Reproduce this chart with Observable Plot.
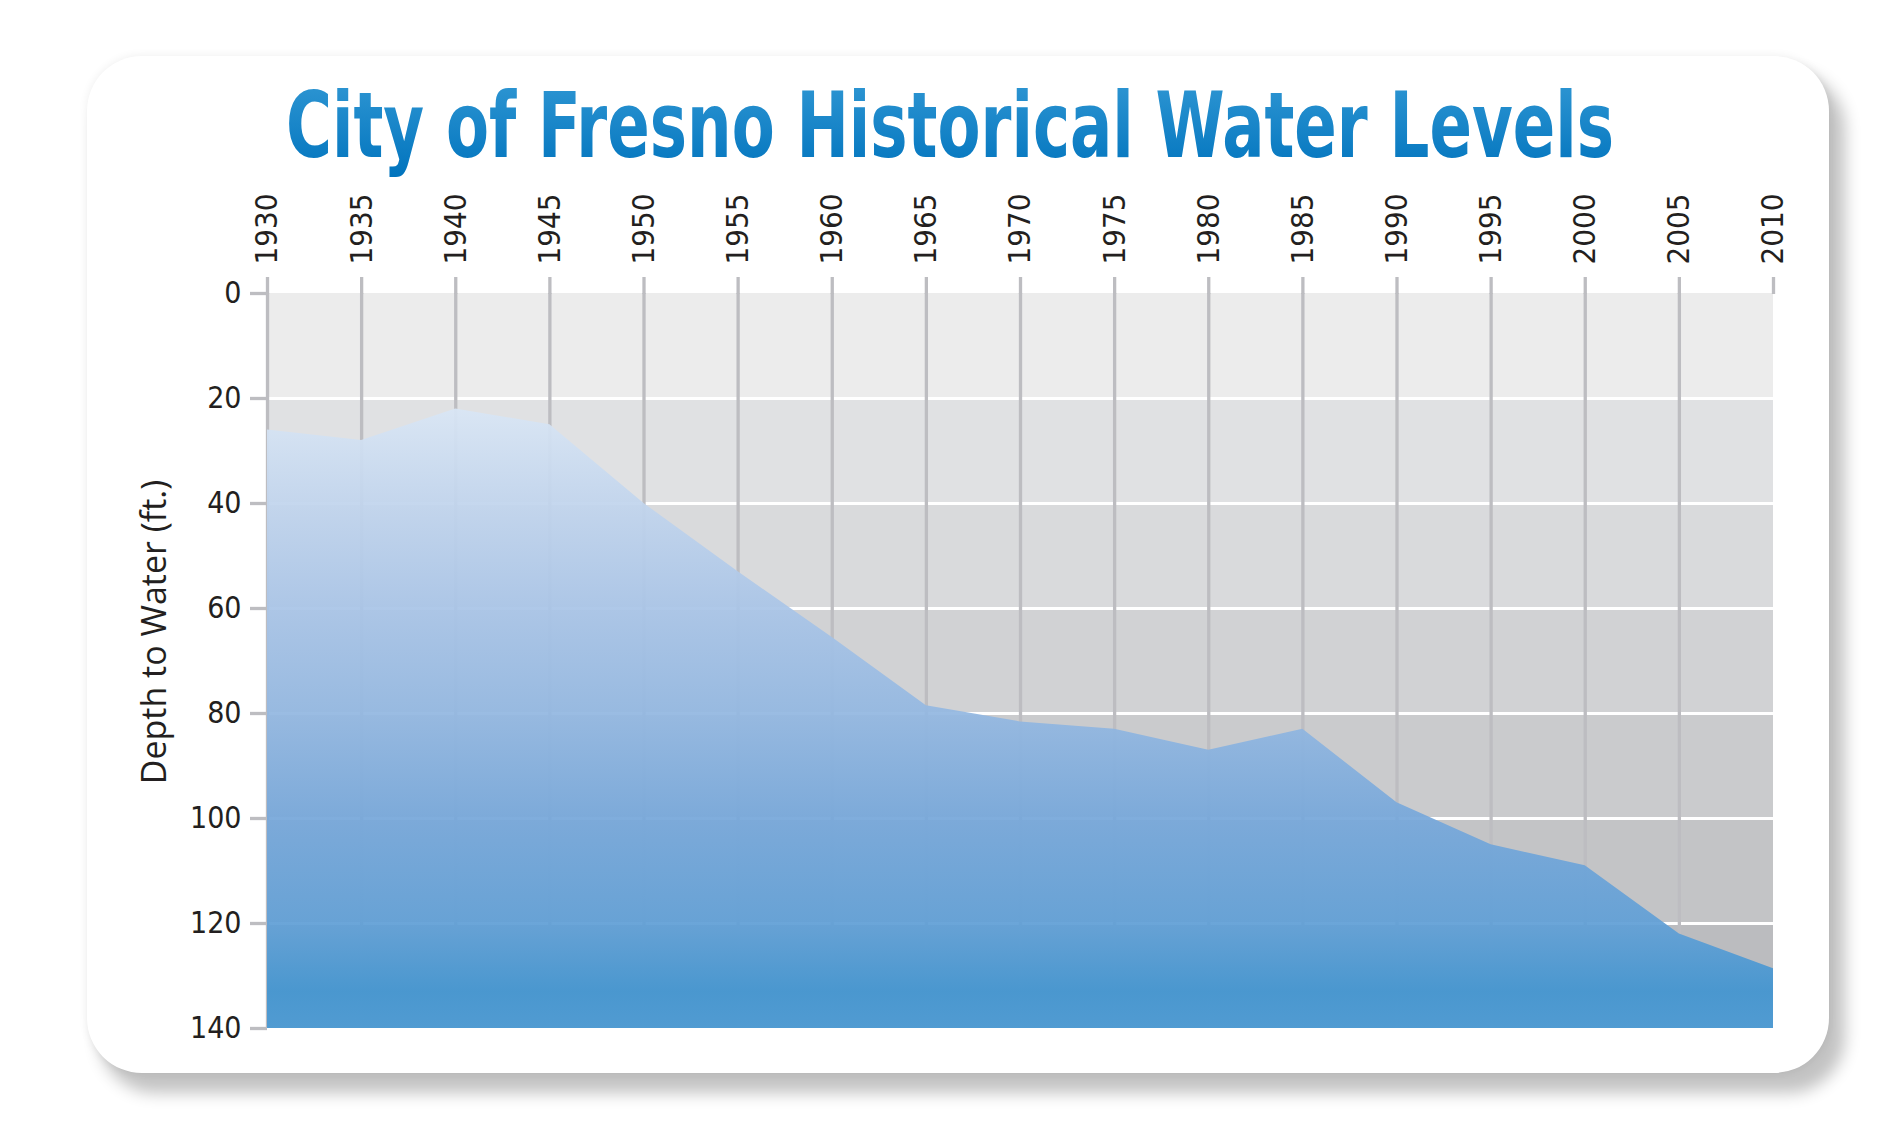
<!DOCTYPE html>
<html>
<head>
<meta charset="utf-8">
<script src="https://cdn.jsdelivr.net/npm/d3@7"></script>
<script src="https://cdn.jsdelivr.net/npm/@observablehq/plot@0.6"></script>
<style>
  html, body { margin: 0; padding: 0; background: #ffffff; overflow: hidden; }
  #page { position: relative; width: 1894px; height: 1138px; }
  #card {
    position: absolute; left: 87px; top: 56px; width: 1742px; height: 1017px;
    background: #ffffff; border-radius: 55px;
    box-shadow: 0 0 10px rgba(0,0,0,0.07), 14px 18px 16px 2px rgba(0,0,0,0.24);
  }
  #chart { position: absolute; left: 0; top: 0; }
  #title { position: absolute; left: 0; top: 0; }
</style>
</head>
<body>
<div id="page">
  <div id="card"></div>
  <div id="chart"></div>
  <svg id="title" width="1894" height="220"></svg>
</div>
<script>
// ---- data ----
const titleText = "City of Fresno Historical Water Levels";
const yTitle = "Depth to Water (ft.)";
const years = [1930, 1935, 1940, 1945, 1950, 1955, 1960, 1965, 1970, 1975, 1980, 1985, 1990, 1995, 2000, 2005, 2010];
const depths = [26, 28, 22, 25, 40, 53, 65.5, 78.5, 81.6, 83, 87, 83, 97, 105, 109, 122, 128.6];
const yTicks = [0, 20, 40, 60, 80, 100, 120, 140];
const gridLevels = [20, 40, 60, 80, 100, 120];
const bandTops = [0, 20, 40, 60, 80, 100, 120];
const bandBottoms = [20, 40, 60, 80, 100, 120, 140];
const bandColors = ["#ececec", "#e0e1e3", "#d9dadc", "#d1d2d4", "#cacbcd", "#c3c4c6", "#bbbcbf"];
const gradDepths = [22, 40, 60, 80, 100, 120, 133, 140];
const gradColors = ["#d9e6f5", "#c2d5ed", "#aac5e7", "#94b8e1", "#78a8da", "#62a0d6", "#4395d0", "#4a99d3"];

const data = years.map((y, i) => ({year: y, depth: depths[i]}));
const bands = bandTops.map((t, i) => ({y1: t, y2: bandBottoms[i], color: bandColors[i]}));
const yMin = yTicks[0], yMax = yTicks[yTicks.length - 1];
const narrow = "'Liberation Sans Narrow', 'DejaVu Sans Condensed', sans-serif";

const chart = Plot.plot({
  width: 1894,
  height: 1138,
  marginLeft: 267,
  marginRight: 121,
  marginTop: 293,
  marginBottom: 110,
  style: {background: "transparent", fontFamily: narrow, overflow: "visible"},
  x: {domain: [years[0], years[years.length - 1]]},
  y: {domain: [yMin, yMax], reverse: true},
  marks: [
    Plot.rect(bands, {x1: years[0], x2: years[years.length - 1], y1: "y1", y2: "y2", fill: "color"}),
    Plot.ruleY(gridLevels, {stroke: "#ffffff", strokeWidth: 3}),
    Plot.ruleX(years.slice(0, -1), {stroke: "#bdbdc1", strokeWidth: 3.3}),
    Plot.areaY(data, {x: "year", y1: yMax, y2: "depth", fill: "url(#areaGrad)", fillOpacity: 0.94}),
    Plot.axisX({
      anchor: "top", ticks: years, tickFormat: d3.format("d"), tickRotate: -90,
      tickSize: 17, tickPadding: 12, stroke: "#bdbdc1", strokeWidth: 3.3,
      fill: "#231f20", fontSize: 31, label: null
    }),
    Plot.axisY({
      anchor: "left", ticks: yTicks, tickFormat: d3.format("d"),
      tickSize: 17, tickPadding: 9, stroke: "#bdbdc1", strokeWidth: 3.3,
      fill: "#231f20", fontSize: 30, label: null
    }),
    Plot.text([yTitle], {
      frameAnchor: "left", text: d => d, rotate: -90, dx: -112, dy: -29,
      textAnchor: "middle", lineAnchor: "middle",
      fontSize: 34, fontFamily: "'Open Sans', 'Noto Sans', sans-serif", fill: "#231f20"
    })
  ]
});

// gradient for the area
const ys = chart.scale("y");
const svg = d3.select(chart);
const defs = svg.insert("defs", ":first-child");
const grad = defs.append("linearGradient")
  .attr("id", "areaGrad")
  .attr("gradientUnits", "userSpaceOnUse")
  .attr("x1", 0).attr("x2", 0)
  .attr("y1", ys.apply(yMin)).attr("y2", ys.apply(yMax));
gradDepths.forEach((d, i) => {
  grad.append("stop").attr("offset", (d - yMin) / (yMax - yMin)).attr("stop-color", gradColors[i]);
});

document.getElementById("chart").appendChild(chart);

// title
const tsvg = d3.select("#title");
const tg = tsvg.append("defs").append("linearGradient")
  .attr("id", "titleGrad").attr("x1", 0).attr("y1", 0).attr("x2", 0).attr("y2", 1);
tg.append("stop").attr("offset", 0).attr("stop-color", "#3198d4");
tg.append("stop").attr("offset", 1).attr("stop-color", "#0073bd");
tsvg.append("text")
  .attr("transform", "translate(286,157) scale(1,1.5)")
  .attr("x", 0).attr("y", 0)
  .attr("textLength", 1328).attr("lengthAdjust", "spacingAndGlyphs")
  .attr("font-family", "'Liberation Sans Narrow', 'DejaVu Sans Condensed', sans-serif")
  .attr("font-weight", "bold").attr("font-size", 60)
  .attr("fill", "url(#titleGrad)")
  .text(titleText);
</script>
</body>
</html>
